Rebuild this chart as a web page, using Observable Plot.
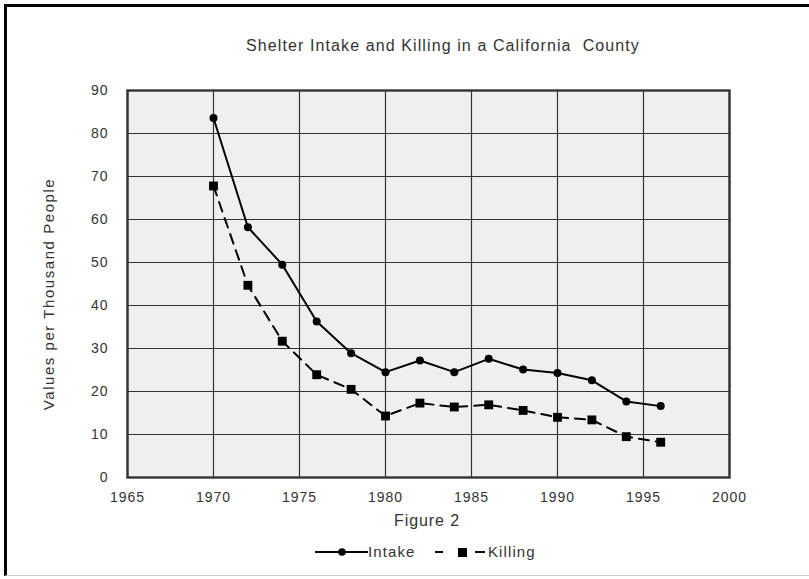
<!DOCTYPE html>
<html>
<head>
<meta charset="utf-8">
<script src="https://cdn.jsdelivr.net/npm/d3@7"></script>
<script src="https://cdn.jsdelivr.net/npm/@observablehq/plot@0.6"></script>
<style>
  html, body { margin: 0; padding: 0; background: #fff; }
  #wrap { position: relative; width: 809px; height: 579px; overflow: hidden; font-family: "Liberation Sans", Arial, sans-serif; color: #333; }
  #border { position: absolute; left: 4px; top: 4px; width: 810px; height: 572px; border-top: 3px solid #000; border-left: 3px solid #000; border-bottom: 1px solid #ccc; box-sizing: border-box; pointer-events: none; }
  #chart { position: absolute; left: 0; top: 0; }
  .t { position: absolute; white-space: nowrap; transform: translateX(-50%); }
  #title { left: 443px; top: 37px; font-size: 16px; letter-spacing: 1.1px; }
  #caption { left: 427px; top: 512px; font-size: 16px; letter-spacing: 0.9px; }
  #legend { position: absolute; left: 312px; top: 542px; height: 20px; }
</style>
</head>
<body>
<div id="wrap">
  <div id="chart"></div>
  <div id="title" class="t">Shelter Intake and Killing in a California&nbsp; County</div>
  <div id="caption" class="t">Figure 2</div>
  <div id="legend"></div>
  <div id="border"></div>
</div>
<script>
const years = [1970, 1972, 1974, 1976, 1978, 1980, 1982, 1984, 1986, 1988, 1990, 1992, 1994, 1996];
const intake = [83.6, 58.2, 49.5, 36.3, 28.9, 24.5, 27.2, 24.5, 27.6, 25.1, 24.3, 22.6, 17.7, 16.6];
const killing = [67.8, 44.7, 31.7, 23.9, 20.5, 14.3, 17.3, 16.4, 16.9, 15.6, 14.0, 13.4, 9.5, 8.2];
const xTicks = [1965, 1970, 1975, 1980, 1985, 1990, 1995, 2000];
const yTicks = [0, 10, 20, 30, 40, 50, 60, 70, 80, 90];
const seriesNames = ["Intake", "Killing"];
const yLabel = "Values per Thousand People";

const intakeData = years.map((y, i) => ({year: y, value: intake[i]}));
const killingData = years.map((y, i) => ({year: y, value: killing[i]}));

const plot = Plot.plot({
  width: 809,
  height: 579,
  marginLeft: 127,
  marginRight: 80,
  marginTop: 90,
  marginBottom: 102,
  style: {fontFamily: "'Liberation Sans', Arial, sans-serif", fontSize: "14px", color: "#333", background: "transparent", letterSpacing: "1px"},
  x: {domain: [1965, 2000], ticks: xTicks, tickFormat: d => String(d), tickSize: 0, tickPadding: 15, label: null},
  y: {domain: [0, 90], ticks: yTicks, tickSize: 0, tickPadding: 19, label: yLabel, labelAnchor: "center", labelArrow: "none", labelOffset: 84},
  marks: [
    Plot.frame({fill: "#efefef", stroke: null}),
    Plot.gridX(xTicks, {stroke: "#333", strokeOpacity: 1, strokeWidth: 1.2}),
    Plot.gridY(yTicks, {stroke: "#333", strokeOpacity: 1, strokeWidth: 1.2}),
    Plot.frame({stroke: "#333", strokeWidth: 2.4}),
    Plot.line(killingData, {x: "year", y: "value", stroke: "#000", strokeWidth: 2, strokeDasharray: "10,7"}),
    Plot.dot(killingData, {x: "year", y: "value", symbol: "square", r: 5, fill: "#000", stroke: null}),
    Plot.line(intakeData, {x: "year", y: "value", stroke: "#000", strokeWidth: 2}),
    Plot.dot(intakeData, {x: "year", y: "value", r: 4, fill: "#000", stroke: null})
  ]
});
const ylab = d3.select(plot).select('g[aria-label="y-axis label"]');
ylab.attr("transform", "translate(0,10) " + (ylab.attr("transform") || ""));
ylab.selectAll("text").style("font-size", "15px").style("letter-spacing", "1.55px");
document.getElementById("chart").appendChild(plot);

// legend
const leg = document.getElementById("legend");
leg.innerHTML = `
<svg width="260" height="20" style="position:absolute;left:0;top:0;font-family:'Liberation Sans', Arial, sans-serif;font-size:15px;letter-spacing:1.1px;">
  <line x1="3" y1="10" x2="56" y2="10" stroke="#000" stroke-width="2"/>
  <circle cx="30" cy="10" r="3.8" fill="#000"/>
  <text x="56" y="15" fill="#333">${seriesNames[0]}</text>
  <line x1="123" y1="10" x2="131" y2="10" stroke="#000" stroke-width="2"/>
  <rect x="146" y="6" width="9" height="9" fill="#000"/>
  <line x1="163" y1="10" x2="173" y2="10" stroke="#000" stroke-width="2"/>
  <text x="176" y="15" fill="#333">${seriesNames[1]}</text>
</svg>`;
</script>
</body>
</html>
